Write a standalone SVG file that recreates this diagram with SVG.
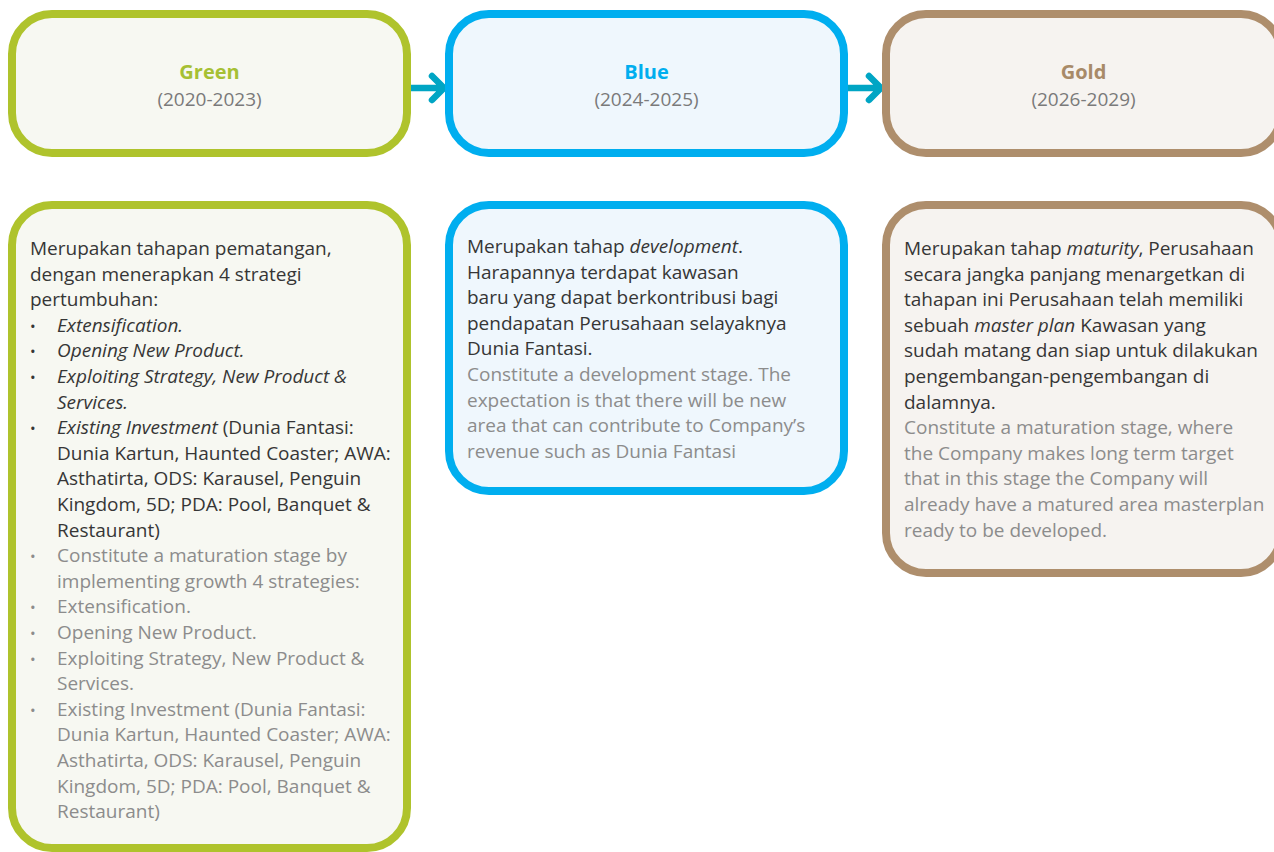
<svg xmlns="http://www.w3.org/2000/svg" width="1274" height="852" viewBox="0 0 1274 852">
<style>
.box{stroke-width:8}
.g{stroke:#afc32c;fill:#f7f8f2}
.b{stroke:#00aeef;fill:#eff7fd}
.o{stroke:#ae8e6c;fill:#f6f3f0}
.t{font-family:"Open Sans","Noto Sans",sans-serif;font-size:20px;font-weight:bold;text-anchor:middle}
.y{font-family:"Open Sans","Noto Sans",sans-serif;font-size:19px;fill:#7a7a7a;text-anchor:middle}
.d{font-family:"Open Sans","Noto Sans",sans-serif;font-size:19px;fill:#363636}
.m{font-family:"Open Sans","Noto Sans",sans-serif;font-size:19px;fill:#8c8c8c}
.i{font-style:italic}
.bu{font-size:15px}
.arr{fill:none;stroke:#00a5c4;stroke-width:6.5;stroke-linecap:round;stroke-linejoin:round}
</style>
<g id="connectors">
<path class="arr" d="M411 88 H443 M432 76 L444 88 L432 100"/>
<path class="arr" d="M848 88 H880 M869 76 L881 88 L869 100"/>
</g>
<g id="green-head">
<rect class="box g" x="12" y="14" width="395" height="139" rx="40"/>
<text class="t" x="209.5" y="79" fill="#a6c034">Green</text>
<text class="y" x="209.5" y="106">(2020-2023)</text>
</g>
<g id="blue-head">
<rect class="box b" x="449" y="14" width="395" height="139" rx="40"/>
<text class="t" x="646.5" y="79" fill="#00aeef">Blue</text>
<text class="y" x="646.5" y="106">(2024-2025)</text>
</g>
<g id="gold-head">
<rect class="box o" x="886" y="14" width="395" height="139" rx="40"/>
<text class="t" x="1083.5" y="79" fill="#a88a68">Gold</text>
<text class="y" x="1083.5" y="106">(2026-2029)</text>
</g>
<g id="green-body">
<rect class="box g" x="12" y="205" width="395" height="643" rx="40"/>
<text class="d">
<tspan x="30" y="255">Merupakan tahapan pematangan,</tspan>
<tspan x="30" y="280.6">dengan menerapkan 4 strategi</tspan>
<tspan x="30" y="306.2">pertumbuhan:</tspan>
</text>
<text class="d">
<tspan x="30" y="331.8" class="bu">•</tspan><tspan x="57" class="i">Extensification.</tspan>
<tspan x="30" y="357.4" class="bu">•</tspan><tspan x="57" class="i">Opening New Product.</tspan>
<tspan x="30" y="383" class="bu">•</tspan><tspan x="57" class="i">Exploiting Strategy, New Product &amp;</tspan>
<tspan x="57" y="408.6" class="i">Services.</tspan>
<tspan x="30" y="434.2" class="bu">•</tspan><tspan x="57" class="i">Existing Investment</tspan><tspan> (Dunia Fantasi:</tspan>
<tspan x="57" y="459.8">Dunia Kartun, Haunted Coaster; AWA:</tspan>
<tspan x="57" y="485.4">Asthatirta, ODS: Karausel, Penguin</tspan>
<tspan x="57" y="511">Kingdom, 5D; PDA: Pool, Banquet &amp;</tspan>
<tspan x="57" y="536.6">Restaurant)</tspan>
</text>
<text class="m">
<tspan x="30" y="562.2" class="bu">•</tspan><tspan x="57">Constitute a maturation stage by</tspan>
<tspan x="57" y="587.8">implementing growth 4 strategies:</tspan>
<tspan x="30" y="613.4" class="bu">•</tspan><tspan x="57">Extensification.</tspan>
<tspan x="30" y="639" class="bu">•</tspan><tspan x="57">Opening New Product.</tspan>
<tspan x="30" y="664.6" class="bu">•</tspan><tspan x="57">Exploiting Strategy, New Product &amp;</tspan>
<tspan x="57" y="690.2">Services.</tspan>
<tspan x="30" y="715.8" class="bu">•</tspan><tspan x="57">Existing Investment (Dunia Fantasi:</tspan>
<tspan x="57" y="741.4">Dunia Kartun, Haunted Coaster; AWA:</tspan>
<tspan x="57" y="767">Asthatirta, ODS: Karausel, Penguin</tspan>
<tspan x="57" y="792.6">Kingdom, 5D; PDA: Pool, Banquet &amp;</tspan>
<tspan x="57" y="818.2">Restaurant)</tspan>
</text>
</g>
<g id="blue-body">
<rect class="box b" x="449" y="205" width="395" height="286" rx="40"/>
<text class="d">
<tspan x="467" y="253">Merupakan tahap </tspan><tspan class="i">development</tspan><tspan>.</tspan>
<tspan x="467" y="278.6">Harapannya terdapat kawasan</tspan>
<tspan x="467" y="304.2">baru yang dapat berkontribusi bagi</tspan>
<tspan x="467" y="329.8">pendapatan Perusahaan selayaknya</tspan>
<tspan x="467" y="355.4">Dunia Fantasi.</tspan>
</text>
<text class="m">
<tspan x="467" y="381">Constitute a development stage. The</tspan>
<tspan x="467" y="406.6">expectation is that there will be new</tspan>
<tspan x="467" y="432.2">area that can contribute to Company’s</tspan>
<tspan x="467" y="457.8">revenue such as Dunia Fantasi</tspan>
</text>
</g>
<g id="gold-body">
<rect class="box o" x="886" y="205" width="395" height="368" rx="40"/>
<text class="d">
<tspan x="904" y="255">Merupakan tahap </tspan><tspan class="i">maturity</tspan><tspan>, Perusahaan</tspan>
<tspan x="904" y="280.6">secara jangka panjang menargetkan di</tspan>
<tspan x="904" y="306.2">tahapan ini Perusahaan telah memiliki</tspan>
<tspan x="904" y="331.8">sebuah </tspan><tspan class="i">master plan</tspan><tspan> Kawasan yang</tspan>
<tspan x="904" y="357.4">sudah matang dan siap untuk dilakukan</tspan>
<tspan x="904" y="383">pengembangan-pengembangan di</tspan>
<tspan x="904" y="408.6">dalamnya.</tspan>
</text>
<text class="m">
<tspan x="904" y="434.2">Constitute a maturation stage, where</tspan>
<tspan x="904" y="459.8">the Company makes long term target</tspan>
<tspan x="904" y="485.4">that in this stage the Company will</tspan>
<tspan x="904" y="511">already have a matured area masterplan</tspan>
<tspan x="904" y="536.6">ready to be developed.</tspan>
</text>
</g>
</svg>
